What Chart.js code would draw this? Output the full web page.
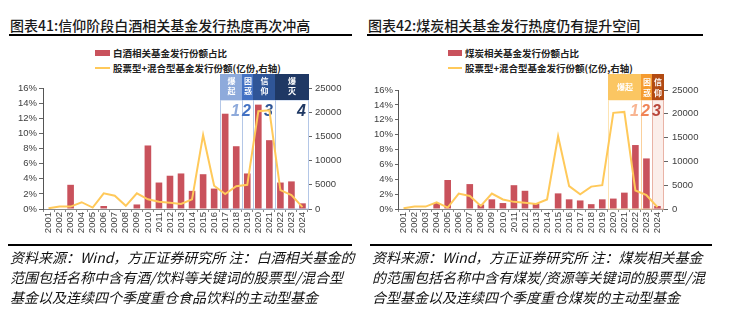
<!doctype html>
<html lang="zh">
<head>
  <meta charset="utf-8">
  <title>白酒 / 煤炭相关基金发行热度</title>
  <script src="https://cdn.jsdelivr.net/npm/chart.js"></script>
  <style>
    body { margin: 0; width: 731px; height: 335px; background: #fff; position: relative; overflow: hidden;
           font-family: "Noto Sans CJK SC", sans-serif; color: #111; }
    .title { position: absolute; top: 17px; font-size: 14px; line-height: 17px; font-weight: 500; white-space: nowrap; color: #1a1a1a; }
    .rule { position: absolute; height: 2px; background: #000; }
    .legend { position: absolute; font-size: 9.5px; line-height: 12px; font-weight: 700; white-space: nowrap; color: #222; }
    .swatch { position: absolute; }
    canvas { position: absolute; top: 40px; }
    .note { position: absolute; top: 247px; font-size: 14px; line-height: 20px; font-style: italic; white-space: nowrap; color: #111; }
  </style>
</head>
<body>

<div class="title" style="left:10px">图表41:信仰阶段白酒相关基金发行热度再次冲高</div>
<div class="rule" style="left:9px; top:34px; width:343px"></div>
<div class="title" style="left:368px">图表42:煤炭相关基金发行热度仍有提升空间</div>
<div class="rule" style="left:367px; top:34px; width:336px"></div>

<div class="swatch" style="left:95px; top:50px; width:15px; height:6px; background:#c9525c"></div>
<div class="legend" style="left:113px; top:47px">白酒相关基金发行份额占比</div>
<div class="swatch" style="left:95px; top:67px; width:15px; height:2px; background:#ffc95a"></div>
<div class="legend" style="left:113px; top:62px">股票型+混合型基金发行份额(亿份,右轴)</div>

<div class="swatch" style="left:448px; top:50px; width:14px; height:6px; background:#c9525c"></div>
<div class="legend" style="left:465px; top:47px">煤炭相关基金发行份额占比</div>
<div class="swatch" style="left:448px; top:67px; width:14px; height:2px; background:#ffc95a"></div>
<div class="legend" style="left:465px; top:62px">股票型+混合型基金发行份额(亿份,右轴)</div>

<canvas id="liquorChart" width="365" height="205" style="left:0"></canvas>
<canvas id="coalChart" width="366" height="205" style="left:365px"></canvas>

<div class="rule" style="left:8px; top:244px; width:344px"></div>
<div class="note" style="left:10px">资料来源：Wind，方正证券研究所 注：白酒相关基金的<br>范围包括名称中含有酒/饮料等关键词的股票型/混合型<br>基金以及连续四个季度重仓食品饮料的主动型基金</div>
<div class="rule" style="left:370px; top:244px; width:342px"></div>
<div class="note" style="left:372px">资料来源：Wind，方正证券研究所 注：煤炭相关基金<br>的范围包括名称中含有煤炭/资源等关键词的股票型/混<br>合型基金以及连续四个季度重仓煤炭的主动型基金</div>

<script>
  const years = ['2001', '2002', '2003', '2004', '2005', '2006', '2007', '2008', '2009', '2010', '2011', '2012',
                 '2013', '2014', '2015', '2016', '2017', '2018', '2019', '2020', '2021', '2022', '2023', '2024'];
  // 相关基金发行份额占比 (%)
  const liquorShare = [0, 0, 3.2, 0, 0, 0.4, 0, 0, 0.6, 8.4, 3.5, 4.4, 4.7, 2.4, 4.6, 2.7, 12.6, 8.3, 4.7, 13.8, 9.1, 3.5, 3.65, 0.75];
  const coalShare = [0, 0, 0, 0.8, 3.9, 0, 3.35, 0.6, 1.3, 0.8, 3.2, 2.45, 0.7, 0, 2.1, 1.3, 1.15, 0.65, 1.3, 1.4, 2.2, 8.6, 6.8, 0.4];
  // 股票型+混合型基金发行份额 (亿份)
  const fundIssuance = [150, 500, 500, 1400, 300, 3250, 2750, 650, 3250, 2000, 1500, 1300, 1050, 2000,
                        15300, 4800, 3100, 4700, 5000, 20200, 20400, 3900, 2900, 400];
  const shareTicks = [0, 2, 4, 6, 8, 10, 12, 14, 16];
  const issuanceTicks = [0, 5000, 10000, 15000, 20000, 25000];

  // 阶段划分
  const liquorStages = ['爆起', '困惑', '信仰', '爆灭'];
  const liquorStageStart = ['2017', '2019', '2020', '2022'];
  const liquorStageEnd = ['2018', '2019', '2021', '2024'];
  const coalStages = ['爆起', '困惑', '信仰'];
  const coalStageStart = ['2020', '2023', '2024'];
  const coalStageEnd = ['2022', '2023', '2024'];

  const tickFont = { family: '"Liberation Sans", Arial, sans-serif', size: 9.5 };

  function stagePlugin(names, starts, ends, look) {
    return {
      id: 'stages',
      beforeDatasetsDraw(chart) {
        const { ctx, chartArea, scales: { x } } = chart;
        const half = (x.getPixelForValue(1) - x.getPixelForValue(0)) / 2;
        const top = chartArea.top + look.headTop;
        const mid = chartArea.top + look.headBottom;
        const bottom = chartArea.bottom;
        ctx.save();
        names.forEach((name, i) => {
          const x0 = Math.round(x.getPixelForValue(years.indexOf(starts[i])) - half);
          const x1 = Math.round(x.getPixelForValue(years.indexOf(ends[i])) + half);
          if (look.fill[i]) {
            ctx.fillStyle = look.fill[i];
            ctx.fillRect(x0, mid, x1 - x0, bottom - mid);
          }
          ctx.strokeStyle = look.edge[i];
          ctx.lineWidth = 1;
          ctx.strokeRect(x0 + 0.5, mid, x1 - x0, bottom - mid);

          ctx.fillStyle = look.head[i];
          ctx.fillRect(x0, top, x1 - x0 + 1, mid - top);

          ctx.fillStyle = '#fff';
          ctx.font = 'bold 8px "Noto Sans CJK SC"';
          ctx.textAlign = 'center';
          ctx.textBaseline = 'middle';
          const cx = (x0 + x1) / 2 + 0.5;
          if (look.flat[i]) {
            ctx.fillText(name, cx, (top + mid) / 2);
          } else {
            ctx.fillText(name[0], cx, top + look.char1);
            ctx.fillText(name[1], cx, top + look.char2);
          }

          ctx.fillStyle = look.num[i];
          ctx.font = 'italic bold 16px "Liberation Sans", Arial';
          ctx.textAlign = 'right';
          ctx.fillText(String(i + 1), x1 - 2, chartArea.top + look.numY);
        });
        ctx.restore();
      }
    };
  }

  function makeChart(id, label, share, plugin, geo) {
    return new Chart(document.getElementById(id), {
      type: 'bar',
      data: {
        labels: years,
        datasets: [{
          label: label,
          data: share,
          yAxisID: 'y',
          backgroundColor: '#c9525c',
          barPercentage: 0.6,
          categoryPercentage: 1,
          order: 2
        }, {
          type: 'line',
          label: '股票型+混合型基金发行份额(亿份,右轴)',
          data: fundIssuance,
          yAxisID: 'y1',
          borderColor: '#ffc95a',
          borderWidth: 2,
          pointRadius: 0,
          tension: 0,
          order: 1
        }]
      },
      options: {
        responsive: false,
        animation: false,
        devicePixelRatio: 1,
        layout: { padding: { top: geo.top, left: 0, right: 0, bottom: 0 } },
        plugins: { legend: { display: false }, tooltip: { enabled: false } },
        scales: {
          x: {
            afterFit: s => { s.height = 36; },
            grid: { drawOnChartArea: false, tickLength: 3, color: '#888' },
            border: { color: '#888' },
            ticks: { autoSkip: false, minRotation: 90, maxRotation: 90, padding: 0, color: '#404040', font: tickFont }
          },
          y: {
            position: 'left',
            min: 0,
            max: 16,
            afterFit: s => { s.width = geo.left; },
            afterBuildTicks: s => { s.ticks = shareTicks.map(v => ({ value: v })); },
            grid: { drawOnChartArea: false, tickLength: geo.leftTick, color: '#666' },
            border: { color: '#555' },
            ticks: { padding: 2, color: '#404040', font: tickFont, callback: v => v + '%' }
          },
          y1: {
            position: 'right',
            min: 0,
            max: 25000,
            afterFit: s => { s.width = geo.right; },
            afterBuildTicks: s => { s.ticks = issuanceTicks.map(v => ({ value: v })); },
            grid: { drawOnChartArea: false, tickLength: geo.rightTick, color: '#666' },
            border: { color: geo.rightBorder },
            ticks: { padding: geo.rightPad, color: '#404040', font: tickFont, callback: v => String(v) }
          }
        }
      },
      plugins: [plugin]
    });
  }

  makeChart('liquorChart', '白酒相关基金发行份额占比', liquorShare,
    stagePlugin(liquorStages, liquorStageStart, liquorStageEnd, {
      headTop: -14, headBottom: 12, char1: 7, char2: 17, numY: 24,
      head: ['#8eaadb', '#4472c4', '#2f5597', '#1f3864'],
      edge: ['#b4c7e7', '#b4c7e7', '#b4c7e7', '#b4c7e7'],
      fill: [null, null, null, null],
      num: ['#8eaadb', '#4472c4', '#2f5597', '#1f3864'],
      flat: [false, false, false, false]
    }),
    { top: 48, left: 43, right: 57, leftTick: 4, rightTick: 4, rightPad: 3, rightBorder: '#777' });

  makeChart('coalChart', '煤炭相关基金发行份额占比', coalShare,
    stagePlugin(coalStages, coalStageStart, coalStageEnd, {
      headTop: -16, headBottom: 10, char1: 7.5, char2: 19, numY: 22,
      head: ['#fbc662', '#f59b30', '#b24a12'],
      edge: ['#fde4b4', '#fad09c', '#e9b3a6'],
      fill: [null, null, '#fbeeea'],
      num: ['#f8b592', '#f08456', '#b9473c'],
      flat: [true, false, false]
    }),
    { top: 50, left: 33, right: 68, leftTick: 3, rightTick: 5, rightPad: 4, rightBorder: '#9c5a3c' });
</script>
</body>
</html>
